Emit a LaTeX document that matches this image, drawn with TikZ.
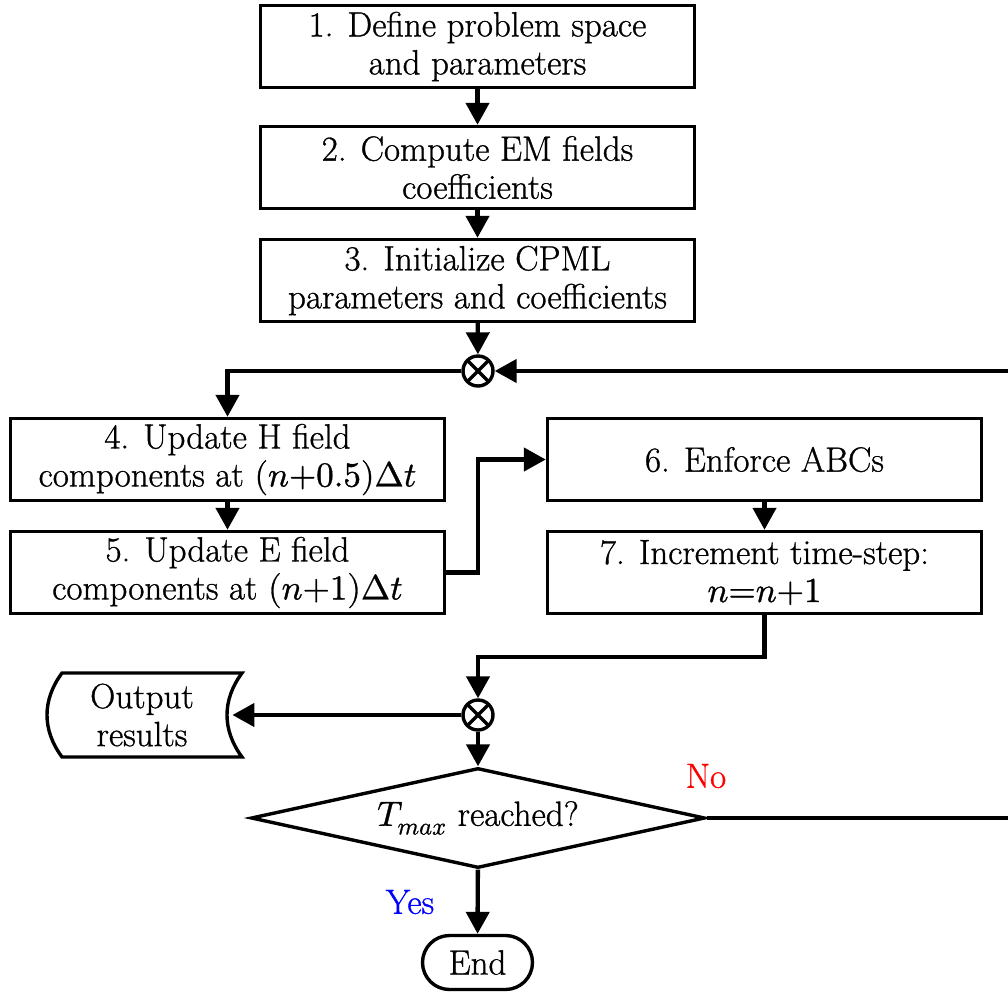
\documentclass[tikz,border=0pt]{standalone}
\usepackage{fontspec}
\usepackage{unicode-math}
\setmainfont{Latin Modern Roman}[FakeBold=0.9]
\setmathfont{Latin Modern Math}[FakeBold=0.9]
\usetikzlibrary{arrows.meta,shapes.geometric,shapes.misc,calc}

\begin{document}
\begin{tikzpicture}[x=0.5pt,y=-0.5pt,
  every node/.style={font=\fontsize{17.5}{19}\selectfont},
  box/.style={draw, line width=1.7pt, minimum width=217pt, minimum height=41pt,
              align=center, inner sep=2pt},
  flow/.style={line width=2.2pt, -{Triangle[length=11pt,width=11.5pt]}},
  plain/.style={line width=2.2pt},
  sumj/.style={circle, draw, line width=1.7pt, minimum size=15pt, inner sep=0pt,
    path picture={\draw[line width=1.7pt]
      (path picture bounding box.north west) -- (path picture bounding box.south east)
      (path picture bounding box.north east) -- (path picture bounding box.south west);}},
  decision/.style={diamond, draw, line width=1.7pt, aspect=4.55, minimum width=227pt,
                   minimum height=50pt, inner sep=0pt},
  terminal/.style={rounded rectangle, draw, line width=1.7pt, minimum width=59pt,
                   minimum height=27pt, inner sep=2pt}
]
\useasboundingbox (0,0) rectangle (1008,992);

% process steps
\node[box] (b1) at (477.5,46.5) {1. Define problem space\\and parameters};
\node[box] (b2) at (477.5,167.5) {2. Compute EM fields\\coefficients};
\node[box] (b3) at (477.5,280.5) {3. Initialize CPML\\parameters and coefficients};
\node[sumj] (j1) at (478,371) {};
\node[box] (b4) at (227.5,459.5) {4. Update H field\\components at $(n{+}0.5)\Delta t$};
\node[box] (b5) at (227.5,572.5) {5. Update E field\\components at $(n{+}1)\Delta t$};
\node[box] (b6) at (764.5,459.5) {6. Enforce ABCs};
\node[box] (b7) at (764.5,572.5) {7. Increment time-step:\\$n{=}n{+}1$};
\node[sumj] (j2) at (478,715) {};
\node[decision] (dec) at (478,818) {$T_{max}$ reached?};
\node[terminal] (fin) at (477.5,962.5) {End};

% stored-data shape for the output
\node[minimum width=90pt, minimum height=42pt, align=center, inner sep=0pt]
  (out) at (142,715) {Output\\results};
\draw[line width=1.7pt]
  (62,673) -- (242,673) .. controls (222,700) and (222,730) .. (242,757)
  -- (62,757) .. controls (42,730) and (42,700) .. (62,673) -- cycle;

% loop ends at the right margin
\coordinate (rin) at (1008,371);
\coordinate (rout) at (1008,818);

% connectors
\draw[flow] (b1) -- (b2);
\draw[flow] (b2) -- (b3);
\draw[flow] (b3) -- (j1);
\draw[flow] (j1.west) -| (b4.north);
\draw[flow] (rin) -- (j1.east);
\draw[flow] (b4) -- (b5);
\draw[flow] (b5.east) -- (b5.east -| j1) |- (b6.west);
\draw[flow] (b6) -- (b7);
\draw[flow] (b7.south) -- ($(b7.south)!0.5!(b7.south |- j2.north)$) -| (j2.north);
\draw[flow] (j2.west) -- (out.east);
\draw[flow] (j2) -- (dec);
\draw[plain] (dec.east) -- (rout);
\draw[flow] (dec) -- (fin);

% branch labels
\node[text=red] (no) at (706,776) {No};
\node[text=blue] (yes) at (410,902) {Yes};
\end{tikzpicture}
\end{document}
